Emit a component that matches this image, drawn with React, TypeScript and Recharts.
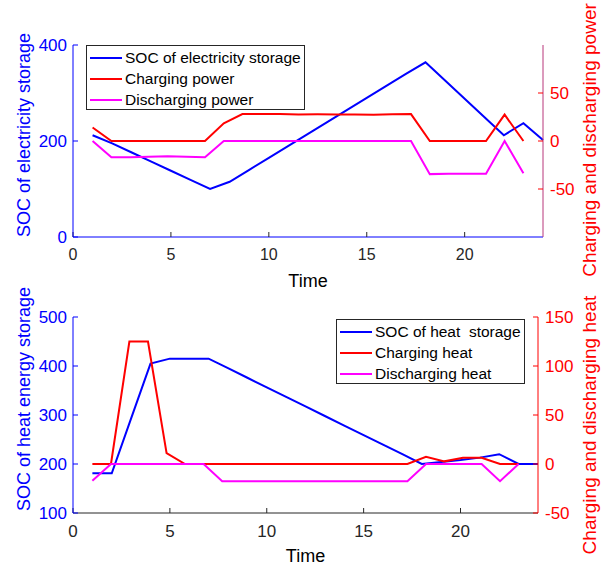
import { Legend, Line, LineChart, XAxis, YAxis } from "recharts";

const FONT = '"Liberation Sans", Arial, Helvetica, sans-serif';
const BLUE = "#0000FF";
const RED = "#FF0000";
const MAGENTA = "#FF00FF";
const INK = "#262626";

// hourly SOC samples
const hours = [1, 2, 3, 4, 5, 6, 7, 8, 9, 10, 11, 12, 13, 14, 15, 16, 17, 18, 19, 20, 21, 22, 23, 24];
// charge / discharge samples sit on a slightly compressed time grid
const times = [
    1, 1.96, 2.91, 3.87, 4.83, 5.78, 6.74, 7.7, 8.65, 9.61, 10.57, 11.52,
    12.48, 13.43, 14.39, 15.35, 16.3, 17.26, 18.22, 19.17, 20.13, 21.09, 22.04, 23,
];

const socElec = [212, 195, 176, 157, 138, 119, 100, 115, 140, 165, 190, 215, 240, 265, 290, 315, 340, 364, 326, 288, 250, 212, 237, 202];
const chargePower = [14, 0, 0, 0, 0, 0, 0, 18.5, 28, 28, 28, 27.6, 27.8, 27.6, 27.6, 27.3, 27.8, 28, 0, 0, 0, 0, 27.5, 0];
const dischargePower = [0, -17, -17, -16.5, -16, -16.3, -17, 0, 0, 0, 0, 0, 0, 0, 0, 0, 0, 0, -34.5, -34, -34, -34, 0, -33.5];

const socHeat = [181, 181, 293, 405, 415, 415, 415, 395.5, 376, 356.5, 337, 317.5, 298, 278.5, 259, 239.5, 220, 200, 204, 208, 213, 220, 200, 200];
const chargeHeat = [0, 0, 125, 125, 11, 0, 0, 0, 0, 0, 0, 0, 0, 0, 0, 0, 0, 0, 7.4, 2.7, 6.4, 6.4, 0, 0];
const dischargeHeat = [-17, 0, 0, 0, 0, 0, 0, -17.5, -17.5, -17.5, -17.5, -17.5, -17.5, -17.5, -17.5, -17.5, -17.5, -17.5, 0, 0, 0, 0, -17.5, 0];

const elecNames = ["SOC of electricity storage", "Charging power", "Discharging power"];
const heatNames = ["SOC of heat  storage", "Charging heat", "Discharging heat"];

const timeTicks = [0, 5, 10, 15, 20];
const elecTicks = [0, 200, 400];
const powerTicks = [-50, 0, 50];
const heatSocTicks = [100, 200, 300, 400, 500];
const heatTicks = [-50, 0, 50, 100, 150];

const pairs = (xs: number[], ys: number[]) => xs.map((t, i) => ({ t, v: ys[i] }));

function sideTitle(text: string, color: string, size: number, x: number, y: number) {
    return () => (
        <text
            x={x}
            y={y}
            transform={`rotate(-90 ${x} ${y})`}
            textAnchor="middle"
            fill={color}
            fontSize={size}
            fontFamily={FONT}
            style={{ whiteSpace: "pre" }}
        >
            {text}
        </text>
    );
}

type LegendEntry = { value?: string; color?: string };

function BoxLegend({ payload, order }: { payload?: LegendEntry[]; order: string[] }) {
    const items = [...(payload ?? [])].sort(
        (a, b) => order.indexOf(a.value ?? "") - order.indexOf(b.value ?? "")
    );
    return (
        <div
            style={{
                boxSizing: "border-box",
                width: "100%",
                height: "100%",
                border: `1px solid ${INK}`,
                background: "#fff",
                padding: "1px 3px",
                fontFamily: FONT,
                fontSize: 15.5,
                color: "#000",
            }}
        >
            {items.map((p) => (
                <div key={p.value} style={{ display: "flex", alignItems: "center", height: 21.2 }}>
                    <span style={{ width: 32, height: 2, background: p.color, marginRight: 3, flex: "none" }} />
                    <span style={{ whiteSpace: "pre", lineHeight: 1 }}>{p.value}</span>
                </div>
            ))}
        </div>
    );
}

function ElectricityChart() {
    return (
        <LineChart width={613} height={290} margin={{ top: 45, right: 0, bottom: 0, left: 0 }}>
            <XAxis
                xAxisId="b"
                type="number"
                dataKey="t"
                domain={[0, 24]}
                ticks={timeTicks}
                height={53}
                stroke={BLUE}
                tick={{ fill: INK, fontSize: 16 }}
                tickLine={{ stroke: INK }}
                tickSize={-5}
                tickMargin={17}
                label={{ value: "Time", position: "insideBottom", offset: 3.5, fill: "#000", fontSize: 18 }}
            />
            <XAxis
                xAxisId="t"
                orientation="top"
                type="number"
                dataKey="t"
                domain={[0, 24]}
                ticks={timeTicks}
                height={0}
                stroke={INK}
                tick={false}
                tickSize={-5}
            />
            <YAxis
                yAxisId="l"
                domain={[0, 400]}
                ticks={elecTicks}
                width={73}
                stroke={BLUE}
                tick={{ fill: BLUE, fontSize: 17 }}
                tickSize={-5}
                tickMargin={11}
                label={sideTitle("SOC of electricity storage", BLUE, 18, 30, 135)}
            />
            <YAxis
                yAxisId="r"
                orientation="right"
                domain={[-100, 100]}
                ticks={powerTicks}
                width={70}
                stroke="#B8377A"
                tick={{ fill: RED, fontSize: 17 }}
                tickLine={{ stroke: RED }}
                tickSize={-5}
                tickMargin={12}
                label={sideTitle("Charging and discharging power", RED, 19, 596, 140)}
            />
            <Legend
                layout="horizontal"
                verticalAlign="middle"
                align="center"
                width={219}
                height={65}
                wrapperStyle={{ left: 86, top: 45 }}
                content={(props: any) => <BoxLegend payload={props.payload} order={elecNames} />}
            />
            <Line
                xAxisId="b"
                yAxisId="l"
                data={pairs(hours, socElec)}
                dataKey="v"
                name={elecNames[0]}
                type="linear"
                stroke={BLUE}
                strokeWidth={2}
                dot={false}
                activeDot={false}
                isAnimationActive={false}
            />
            <Line
                xAxisId="b"
                yAxisId="r"
                data={pairs(times, chargePower)}
                dataKey="v"
                name={elecNames[1]}
                type="linear"
                stroke={RED}
                strokeWidth={2}
                dot={false}
                activeDot={false}
                isAnimationActive={false}
            />
            <Line
                xAxisId="b"
                yAxisId="r"
                data={pairs(times, dischargePower)}
                dataKey="v"
                name={elecNames[2]}
                type="linear"
                stroke={MAGENTA}
                strokeWidth={2}
                dot={false}
                activeDot={false}
                isAnimationActive={false}
            />
        </LineChart>
    );
}

function HeatChart() {
    return (
        <LineChart width={613} height={290} margin={{ top: 37, right: 0, bottom: 0, left: 0 }}>
            <XAxis
                xAxisId="b"
                type="number"
                dataKey="t"
                domain={[0, 24]}
                ticks={timeTicks}
                height={57}
                stroke={INK}
                tick={{ fill: INK, fontSize: 17 }}
                tickSize={-5}
                tickMargin={17}
                label={{ value: "Time", position: "insideBottom", offset: 8.3, fill: "#000", fontSize: 18 }}
            />
            <XAxis
                xAxisId="t"
                orientation="top"
                type="number"
                dataKey="t"
                domain={[0, 24]}
                ticks={timeTicks}
                height={0}
                stroke={INK}
                tick={false}
                tickSize={-5}
            />
            <YAxis
                yAxisId="l"
                domain={[100, 500]}
                ticks={heatSocTicks}
                width={73}
                stroke={BLUE}
                tick={{ fill: BLUE, fontSize: 17 }}
                tickSize={-5}
                tickMargin={11}
                label={sideTitle("SOC of heat energy storage", BLUE, 18, 30, 119)}
            />
            <YAxis
                yAxisId="r"
                orientation="right"
                domain={[-50, 150]}
                ticks={heatTicks}
                width={75}
                stroke={RED}
                tick={{ fill: RED, fontSize: 17 }}
                tickSize={-5}
                tickMargin={12}
                label={sideTitle("Charging and discharging heat", RED, 19, 596, 145)}
            />
            <Legend
                layout="horizontal"
                verticalAlign="middle"
                align="center"
                width={189}
                height={65}
                wrapperStyle={{ left: 336, top: 39 }}
                content={(props: any) => <BoxLegend payload={props.payload} order={heatNames} />}
            />
            <Line
                xAxisId="b"
                yAxisId="l"
                data={pairs(hours, socHeat)}
                dataKey="v"
                name={heatNames[0]}
                type="linear"
                stroke={BLUE}
                strokeWidth={2}
                dot={false}
                activeDot={false}
                isAnimationActive={false}
            />
            <Line
                xAxisId="b"
                yAxisId="r"
                data={pairs(times, chargeHeat)}
                dataKey="v"
                name={heatNames[1]}
                type="linear"
                stroke={RED}
                strokeWidth={2}
                dot={false}
                activeDot={false}
                isAnimationActive={false}
            />
            <Line
                xAxisId="b"
                yAxisId="r"
                data={pairs(times, dischargeHeat)}
                dataKey="v"
                name={heatNames[2]}
                type="linear"
                stroke={MAGENTA}
                strokeWidth={2}
                dot={false}
                activeDot={false}
                isAnimationActive={false}
            />
        </LineChart>
    );
}

export default function App() {
    return (
        <div
            style={{
                position: "absolute",
                left: 0,
                top: 0,
                width: 613,
                height: 570,
                background: "#fff",
                fontFamily: FONT,
                overflow: "hidden",
            }}
        >
            <div style={{ position: "absolute", left: 0, top: 0 }}>
                <ElectricityChart />
            </div>
            <div style={{ position: "absolute", left: 0, top: 280 }}>
                <HeatChart />
            </div>
        </div>
    );
}
